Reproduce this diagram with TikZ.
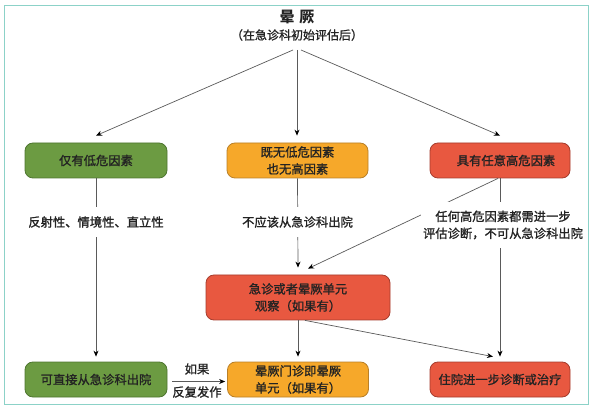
\documentclass[tikz,border=0pt]{standalone}
\usepackage{fontspec}
\setmainfont{Noto Sans CJK SC}
\usetikzlibrary{arrows.meta}
\definecolor{frameteal}{RGB}{140,210,200}
\definecolor{gfill}{RGB}{108,155,66}
\definecolor{gdraw}{RGB}{78,118,48}
\definecolor{ofill}{RGB}{246,168,42}
\definecolor{odraw}{RGB}{185,128,40}
\definecolor{rfill}{RGB}{232,88,64}
\definecolor{rdraw}{RGB}{165,60,45}
\definecolor{txt}{RGB}{35,35,35}
\definecolor{ln}{RGB}{90,90,90}
\newfontfamily\semibold[FakeBold=1.2]{Noto Sans CJK SC}
\tikzset{
  box/.style={rounded corners=8pt, line width=0.8pt, minimum height=35pt, inner sep=0pt,
    align=center, font=\semibold\fontsize{12.3}{17}\selectfont, text=txt},
  gbox/.style={box, fill=gfill, draw=gdraw},
  obox/.style={box, fill=ofill, draw=odraw},
  rbox/.style={box, fill=rfill, draw=rdraw},
  lab/.style={fill=white, align=center, font=\semibold\fontsize{12.3}{18}\selectfont, text=txt, inner xsep=2pt},
  arr/.style={draw=ln, line width=0.7pt, -{Stealth[length=6pt,width=5pt,color=black]}},
  conn/.style={draw=ln, line width=0.7pt}
}
\begin{document}
\begin{tikzpicture}[x=1pt,y=-1pt]
\useasboundingbox (0,0) rectangle (594,411);
\draw[frameteal, line width=1.5pt] (4.5,5.5) rectangle (588.5,404.5);

\node[font=\bfseries\fontsize{15}{18}\selectfont, text=txt] (title) at (297,17) {晕\,\,厥};
\node[font=\semibold\fontsize{12}{15}\selectfont, text=txt] (sub) at (297,35) {（在急诊科初始评估后）};
\coordinate (s1) at (293,50);
\coordinate (s2) at (297,50);
\coordinate (s3) at (301,50);

\node[gbox, minimum width=142pt] (g1) at (96,160.5) {仅有低危因素};
\node[obox, minimum width=141pt] (o1) at (297.5,160.5) {既无低危因素\\也无高因素};
\node[rbox, minimum width=140pt] (r1) at (500,160.5) {\hspace*{12pt}具有任意高危因素};

\node[rbox, minimum width=184pt, minimum height=45pt] (rm) at (298,297.5) {急诊或者晕厥单元\\观察（如果有）};

\node[gbox, minimum width=142pt] (g2) at (96,379.5) {可直接从急诊科出院};
\node[obox, minimum width=141pt] (o2) at (298,379.5) {晕厥门诊即晕厥\\单元（如果有）};
\node[rbox, minimum width=140pt] (r2) at (500,379.5) {住院进一步诊断或治疗};

% top arrows
\draw[arr] (s1) -- ([yshift=7pt]g1.north);
\draw[arr] (s2) -- ([xshift=-0.5pt,yshift=7pt]o1.north);
\draw[arr] (s3) -- ([yshift=7pt]r1.north);

% verticals
\draw[arr] (g1.south) -- ([yshift=5pt]g2.north);
\draw[arr] (o1.south) -- ([yshift=7pt]rm.north);
\draw[arr] (r1.south) -- ([yshift=5pt]r2.north);
\draw[arr] ([xshift=-2pt]r1.south) -- ([xshift=10pt,yshift=6pt]rm.north);

\draw[arr] (rm.south) -- ([yshift=5pt]o2.north);
\draw[arr] ([xshift=7pt]rm.south) -- ([xshift=-7pt,yshift=5pt]r2.north);

% labels over lines
\node[lab, inner ysep=9pt] (l1) at (96,222) {反射性、情境性、直立性};
\node[lab, inner ysep=9pt] (l2) at (297.5,222) {不应该从急诊科出院};
\node[lab, inner ysep=9pt, font=\semibold\fontsize{12.3}{17}\selectfont] (l3) at (503,225) {任何高危因素都需进一步\\评估诊断，不可从急诊科出院};

% bottom side arrow
\draw[arr] ([xshift=5pt,yshift=-2pt]g2.east) -- ([xshift=-2pt,yshift=-2pt]o2.west);
\node[font=\semibold\fontsize{12.3}{15}\selectfont, text=txt] (if) at (197,369) {如果};
\node[font=\semibold\fontsize{12.3}{15}\selectfont, text=txt] (rep) at (197,392) {反复发作};
\end{tikzpicture}
\end{document}
